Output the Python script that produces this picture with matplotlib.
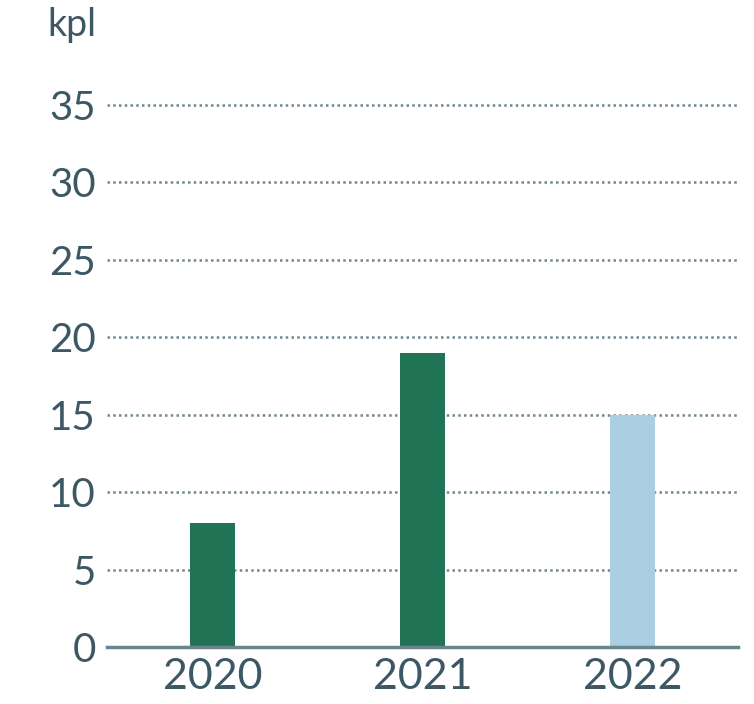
import matplotlib
matplotlib.use("Agg")
import matplotlib.pyplot as plt

years = ["2020", "2021", "2022"]
values = [8, 19, 15]
colors = ["#217356", "#217356", "#abcfe1"]
yticks = [0, 5, 10, 15, 20, 25, 30, 35]
unit = "kpl"

text_c = "#3d5865"
grid_c = "#6e8793"

plt.rcParams['font.family'] = ['Lato', 'DejaVu Sans']

fig = plt.figure(figsize=(7.54, 7.04), dpi=100)
ax = fig.add_axes([0.142, 0.081, 0.837, 0.770])

x = list(range(len(years)))
ax.bar(x, values, width=0.214, color=colors, zorder=3)

ax.set_xlim(-0.5, len(years) - 0.5)
ax.set_ylim(0, 35)
ax.set_yticks(yticks)
ax.set_yticklabels([str(t) for t in yticks])
ax.set_xticks(x)
ax.set_xticklabels(years)

for t in yticks[1:]:
    ax.axhline(t, color=grid_c, linestyle=(0, (1, 1.3)), linewidth=1.8, zorder=1, clip_on=False)

for s in ["top", "right", "left"]:
    ax.spines[s].set_visible(False)
ax.spines["bottom"].set_color("#6b8590")
ax.spines["bottom"].set_linewidth(2.5)
ax.spines["bottom"].set_zorder(4)

ax.tick_params(axis="y", length=0, pad=8, labelsize=29, labelcolor=text_c)
ax.tick_params(axis="x", length=0, pad=8, labelsize=31, labelcolor=text_c)

fig.text(47 / 754, 1 - 25 / 704, unit, fontsize=27, color=text_c, va="center", ha="left")

fig.savefig("out.png", dpi=100)
